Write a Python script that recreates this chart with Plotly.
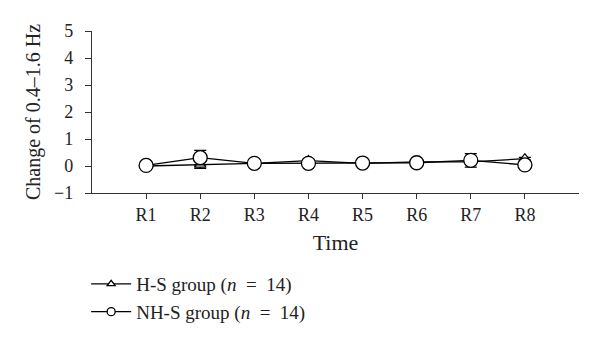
import plotly.graph_objects as go

categories = ["R1", "R2", "R3", "R4", "R5", "R6", "R7", "R8"]
x_pos = [1, 2, 3, 4, 5, 6, 7, 8]
hs_values = [0.0, 0.05, 0.1, 0.2, 0.1, 0.15, 0.15, 0.27]
hs_err = [0.03, 0.14, 0.04, 0.05, 0.04, 0.04, 0.05, 0.05]
nhs_values = [0.02, 0.31, 0.1, 0.1, 0.11, 0.12, 0.21, 0.04]
nhs_err = [0.03, 0.27, 0.04, 0.04, 0.04, 0.04, 0.25, 0.04]
y_ticks = [-1, 0, 1, 2, 3, 4, 5]
y_tick_text = ["\u22121", "0", "1", "2", "3", "4", "5"]
series_names = ["H-S group (<i>n</i>\u2002=\u200214)", "NH-S group (<i>n</i>\u2002=\u200214)"]

FONT = "Liberation Serif"
LINE = dict(color="black", width=1.3)

fig = go.Figure()
fig.add_trace(go.Scatter(
    x=x_pos, y=hs_values, name=series_names[0], showlegend=False,
    mode="lines+markers", line=LINE,
    marker=dict(symbol="triangle-up", size=10, color="white",
                line=dict(color="black", width=1.3)),
    error_y=dict(type="data", array=hs_err, color="black", thickness=1.3, width=6),
))
fig.add_trace(go.Scatter(
    x=x_pos, y=nhs_values, name=series_names[1], showlegend=False,
    mode="lines+markers", line=LINE,
    marker=dict(symbol="circle", size=14, color="white",
                line=dict(color="black", width=1.3)),
    error_y=dict(type="data", array=nhs_err, color="black", thickness=1.3, width=6),
))
# legend entries with smaller symbols, as in the reference
fig.add_trace(go.Scatter(
    x=[None], y=[None], name=series_names[0], mode="lines+markers", line=LINE,
    marker=dict(symbol="triangle-up", size=7, color="white",
                line=dict(color="black", width=1.3)),
))
fig.add_trace(go.Scatter(
    x=[None], y=[None], name=series_names[1], mode="lines+markers", line=LINE,
    marker=dict(symbol="circle", size=8, color="white",
                line=dict(color="black", width=1.3)),
))

fig.update_layout(
    width=600, height=352,
    margin=dict(l=92, r=21, t=31, b=159),
    paper_bgcolor="white", plot_bgcolor="white",
    font=dict(family=FONT, size=18, color="#222"),
    showlegend=True,
    legend=dict(x=-0.012, y=-0.445, xanchor="left", yanchor="top",
                bgcolor="rgba(0,0,0,0)", font=dict(size=19, family=FONT),
                tracegroupgap=0, itemwidth=40),
    xaxis=dict(range=[0, 9], tickvals=x_pos, ticktext=categories,
               showgrid=False, zeroline=False, showline=True, linecolor="#333",
               linewidth=1.3, ticks="outside", ticklen=5, tickcolor="#333",
               tickwidth=1.3,
               title=dict(text="Time", standoff=10)),
    yaxis=dict(range=[-1, 5], tickvals=y_ticks, ticktext=y_tick_text,
               showgrid=False, zeroline=False, showline=True, linecolor="#333",
               linewidth=1.3, ticks="outside", ticklen=6, tickcolor="#333",
               tickwidth=1.3, ticklabelstandoff=8,
               title=dict(text="Change of 0.4\u20131.6 Hz", standoff=8,
                          font=dict(size=20))),
)

fig.write_html("out.html")
